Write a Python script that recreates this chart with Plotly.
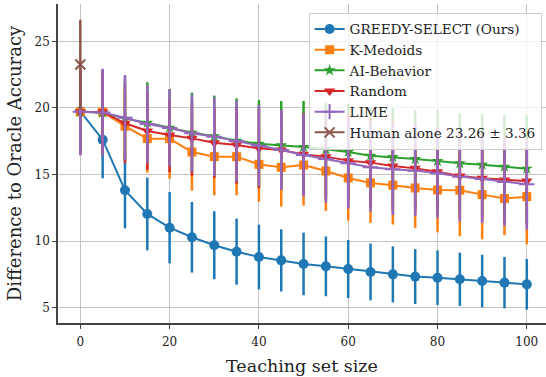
import plotly.graph_objects as go

x = [0, 5, 10, 15, 20, 25, 30, 35, 40, 45, 50, 55, 60, 65, 70, 75, 80, 85, 90, 95, 100]

greedy_mean = [19.75, 17.62, 13.83, 12.05, 11.02, 10.30, 9.70, 9.22, 8.82, 8.57, 8.30,
               8.12, 7.92, 7.70, 7.52, 7.35, 7.27, 7.15, 7.02, 6.90, 6.77]
greedy_std = [3.0, 2.89, 2.86, 2.73, 2.68, 2.65, 2.55, 2.48, 2.43, 2.33, 2.35,
              2.24, 2.18, 2.13, 2.10, 2.06, 2.05, 2.00, 1.97, 1.93, 1.90]

kmed_mean = [19.7, 19.7, 18.63, 17.70, 17.70, 16.70, 16.35, 16.35, 15.77, 15.55, 15.72,
             15.27, 14.75, 14.38, 14.21, 14.0, 13.85, 13.83, 13.5, 13.21, 13.35]
kmed_std = [3.0, 3.0, 2.6, 2.55, 3.0, 2.9, 2.9, 2.9, 2.8, 2.95, 3.05,
            3.0, 3.2, 3.0, 2.95, 3.0, 3.18, 3.45, 3.35, 2.75, 3.58]

aib_mean = [19.72, 19.65, 19.2, 18.9, 18.52, 18.15, 17.88, 17.55, 17.32, 17.2, 17.07,
            16.9, 16.7, 16.42, 16.32, 16.17, 16.02, 15.85, 15.75, 15.6, 15.45]
aib_std = [3.2, 3.2, 3.1, 3.03, 2.9, 3.0, 3.05, 3.17, 3.28, 3.32, 3.45,
           3.5, 3.6, 3.6, 3.65, 3.68, 3.83, 3.75, 3.8, 3.87, 4.0]

rand_mean = [19.7, 19.7, 18.85, 18.27, 17.97, 17.72, 17.4, 17.22, 16.97, 16.85, 16.52,
             16.35, 16.05, 15.9, 15.65, 15.47, 15.22, 14.9, 14.72, 14.6, 14.52]
rand_std = [3.2, 3.1, 3.0, 2.9, 2.8, 2.8, 2.65, 2.9, 3.0, 3.0, 3.1,
            3.2, 3.5, 3.4, 3.4, 3.3, 3.3, 3.2, 3.2, 3.2, 3.2]

lime_mean = [19.72, 19.67, 19.27, 18.8, 18.5, 18.1, 17.85, 17.52, 17.17, 16.85, 16.47,
             16.17, 15.85, 15.55, 15.4, 15.3, 15.1, 14.85, 14.67, 14.45, 14.27]
lime_std = [3.27, 3.27, 3.2, 2.95, 2.9, 2.9, 2.95, 3.05, 3.05, 3.0, 3.1,
            3.3, 3.4, 3.33, 3.43, 3.4, 3.38, 3.35, 3.3, 3.3, 3.4]

human_x = [0]
human_mean = [23.26]
human_std = [3.36]

FONT = "DejaVu Serif"

series = [
    ("GREEDY-SELECT (Ours)", x, greedy_mean, greedy_std, "#1f77b4", "circle", 10),
    ("K-Medoids", x, kmed_mean, kmed_std, "#ff7f0e", "square", 9),
    ("AI-Behavior", x, aib_mean, aib_std, "#2ca02c", "star", 9),
    ("Random", x, rand_mean, rand_std, "#d62728", "triangle-down", 10),
    ("LIME", x, lime_mean, lime_std, "#9467bd", "cross-thin", 11),
    ("Human alone 23.26 \u00b1 3.36", human_x, human_mean, human_std, "#8c564b", "x-thin", 10),
]

fig = go.Figure()
for name, xs, m, s, col, sym, sz in series:
    thin = sym.endswith("-thin")
    fig.add_trace(go.Scatter(
        x=xs, y=m, name=name, mode="lines+markers",
        line=dict(color=col, width=2),
        marker=dict(symbol=sym, size=sz, color=col,
                    line=dict(color=col, width=2 if thin else 0)),
        error_y=dict(type="data", array=s, visible=True, color=col,
                     thickness=2.5, width=0),
    ))

fig.update_layout(
    width=546, height=377,
    margin=dict(l=58, r=0, t=4, b=54),
    paper_bgcolor="white", plot_bgcolor="white",
    font=dict(family=FONT, size=12, color="#222"),
    showlegend=True,
    legend=dict(x=0.991, y=0.973, xanchor="right", yanchor="top",
                bgcolor="rgba(255,255,255,0.8)", bordercolor="#cccccc",
                borderwidth=1, font=dict(family=FONT, size=13.6, color="#222"),
                tracegroupgap=0),
)
fig.update_xaxes(
    range=[-5, 104.3], tickvals=[0, 20, 40, 60, 80, 100],
    showgrid=True, gridcolor="#c4c4c4", gridwidth=1.2, zeroline=False,
    showline=True, linecolor="#444", linewidth=1.6,
    ticks="outside", ticklen=4, tickcolor="#444", tickwidth=1.2,
    ticklabelstandoff=3,
    tickfont=dict(family=FONT, size=12),
    title=dict(text="Teaching set size", font=dict(family=FONT, size=17.5), standoff=12),
)
fig.update_yaxes(
    range=[3.87, 27.8], tickvals=[5, 10, 15, 20, 25],
    showgrid=True, gridcolor="#c4c4c4", gridwidth=1.2, zeroline=False,
    showline=True, linecolor="#444", linewidth=1.6,
    ticks="outside", ticklen=4, tickcolor="#444", tickwidth=1.2,
    tickfont=dict(family=FONT, size=12),
    title=dict(text="Difference to Oracle Accuracy", font=dict(family=FONT, size=18), standoff=8),
)

fig.write_html("out.html")
